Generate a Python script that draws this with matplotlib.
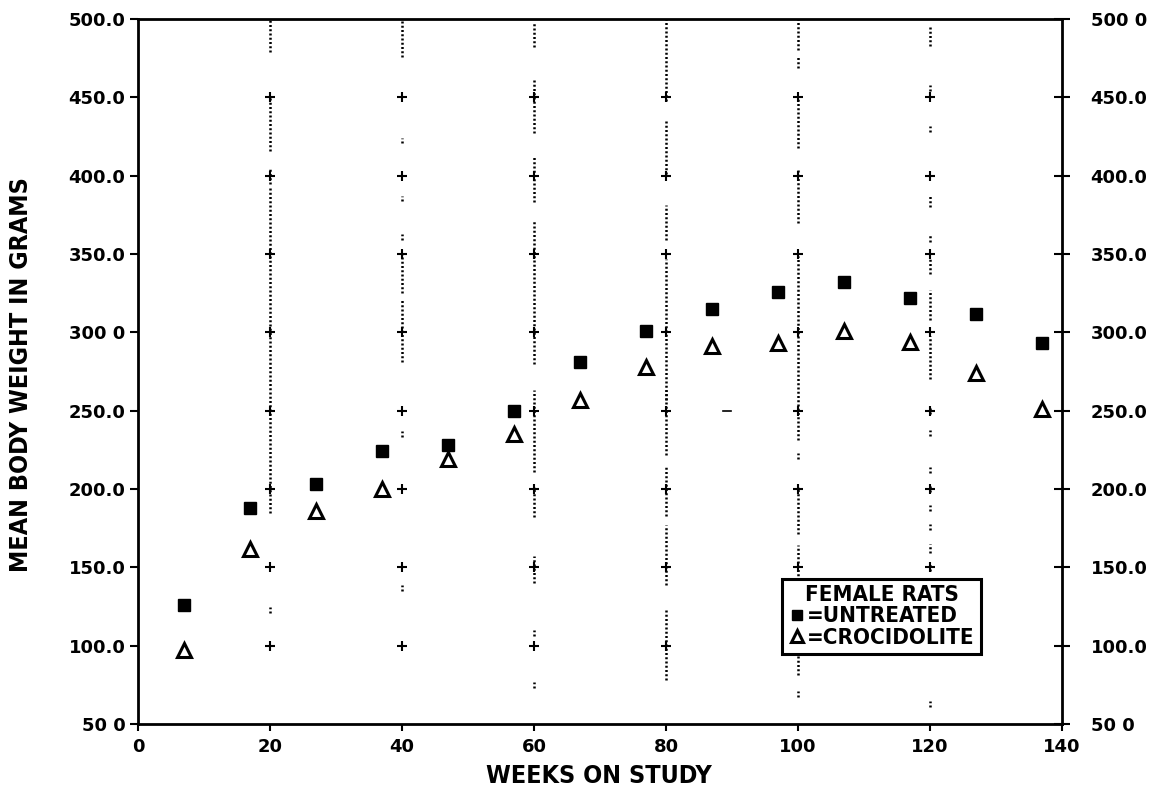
"""Mean body weight of female rats, untreated vs crocidolite, by weeks on study."""

import matplotlib

matplotlib.use("Agg")
import matplotlib.pyplot as plt

# Data.
WEEKS = [7, 17, 27, 37, 47, 57, 67, 77, 87, 97, 107, 117, 127, 137]
UNTREATED = [126, 188, 203, 224, 228, 250, 281, 301, 315, 326, 332, 322, 312, 293]
CROCIDOLITE = [97, 162, 186, 200, 219, 235, 257, 278, 291, 293, 301, 294, 274, 251]

X_TICKS = [0, 20, 40, 60, 80, 100, 120, 140]
Y_TICKS = [50, 100, 150, 200, 250, 300, 350, 400, 450, 500]
LEFT_LABELS = ["50 0", "100.0", "150.0", "200.0", "250.0", "300 0",
               "350.0", "400.0", "450.0", "500.0"]
RIGHT_LABELS = ["50 0", "100.0", "150.0", "200.0", "250.0", "300.0",
                "350.0", "400.0", "450.0", "500 0"]

# Broken dotted reference lines of the original plotter: visible stretches (grams).
GRID_X = [20, 40, 60, 80, 100, 120]
GRID_SEGMENTS = [
    [(479, 500), (416, 450), (395, 405), (185, 392), (121, 125)],
    [(476, 500), (421, 424), (384, 387), (359, 363), (325, 351), (281, 321),
     (233, 237), (135, 139)],
    [(482, 498), (427, 461), (383, 412), (280, 372), (211, 263), (182, 201),
     (140, 157), (106, 110), (73, 77)],
    [(448, 500), (401, 436), (359, 381), (257, 347), (222, 263), (183, 215),
     (139, 177), (78, 123)],
    [(480, 500), (469, 476), (418, 450), (370, 405), (231, 349), (219, 223),
     (171, 201), (142, 164), (81, 94), (67, 71)],
    [(483, 495), (454, 458), (428, 432), (380, 388), (358, 362), (337, 347),
     (308, 327), (270, 298), (248, 252), (234, 238), (210, 214), (198, 202),
     (186, 190), (174, 178), (159, 165), (148, 152), (61, 65)],
]
CROSS_Y = [100, 150, 200, 250, 300, 350, 400, 450]

fig = plt.figure(figsize=(11.62, 7.9), dpi=100)
ax = fig.add_axes([0.1188, 0.0835, 0.7952, 0.8924])
ax.set_xlim(0, 140)
ax.set_ylim(50, 500)

# Dotted verticals with little crosses every 50 g.
for gx, segs in zip(GRID_X, GRID_SEGMENTS):
    for lo, hi in segs:
        ax.plot([gx, gx], [lo, hi], color="black", lw=1.8,
                linestyle=(0, (0.8, 0.9)), zorder=1)
    ax.plot([gx] * len(CROSS_Y), CROSS_Y, "+", color="black", ms=6.5, mew=1.5, zorder=1)
ax.plot([88.6, 89.8], [250, 250], color="black", lw=1.2, zorder=1)

ax.plot(WEEKS, UNTREATED, "s", color="black", ms=9, zorder=3, label="=UNTREATED")
ax.plot(WEEKS, CROCIDOLITE, "^", mfc="white", mec="black", mew=2.2, ms=10.5,
        zorder=3, label="=CROCIDOLITE")

for side in ["left", "right", "top", "bottom"]:
    ax.spines[side].set_linewidth(2.0)

ax.set_xticks(X_TICKS)
ax.set_xticklabels([str(v) for v in X_TICKS])
ax.set_yticks(Y_TICKS)
ax.set_yticklabels(LEFT_LABELS)
ax.tick_params(axis="x", direction="out", length=5, width=1.5, pad=5,
               labelsize=13)
ax.tick_params(axis="y", direction="out", length=6, width=1.5, pad=3,
               labelsize=13)
for lab in ax.get_xticklabels() + ax.get_yticklabels():
    lab.set_fontweight("bold")

right = ax.twinx()
right.set_ylim(50, 500)
right.set_yticks(Y_TICKS)
right.set_yticklabels(RIGHT_LABELS)
right.tick_params(axis="y", direction="inout", length=11, width=1.5, pad=15,
                  labelsize=13)
for lab in right.get_yticklabels():
    lab.set_fontweight("bold")
for side in right.spines.values():
    side.set_visible(False)

label_font = {"family": "DejaVu Sans", "stretch": "condensed",
              "weight": "bold", "size": 18}
fig.text(21 / 1162, 1 - 375 / 790, "MEAN BODY WEIGHT IN GRAMS", rotation=90,
         ha="center", va="center", fontdict=label_font)
fig.text(599 / 1162, 1 - 776 / 790, "WEEKS ON STUDY", ha="center", va="center",
         fontdict=label_font)

leg = ax.legend(
    title="FEMALE RATS",
    loc="lower left",
    bbox_to_anchor=(0.697, 0.099),
    borderaxespad=0,
    prop={"family": "DejaVu Sans", "stretch": "condensed", "weight": "bold",
          "size": 16},
    title_fontproperties={"family": "DejaVu Sans", "stretch": "condensed",
                          "weight": "bold", "size": 16},
    handlelength=0.7,
    handletextpad=0.1,
    borderpad=0.3,
    labelspacing=0.05,
    markerscale=0.85,
    fancybox=False,
    framealpha=1,
    edgecolor="black",
)
leg.get_frame().set_linewidth(2.2)
leg.set_zorder(5)

fig.savefig("out.png", dpi=100)
